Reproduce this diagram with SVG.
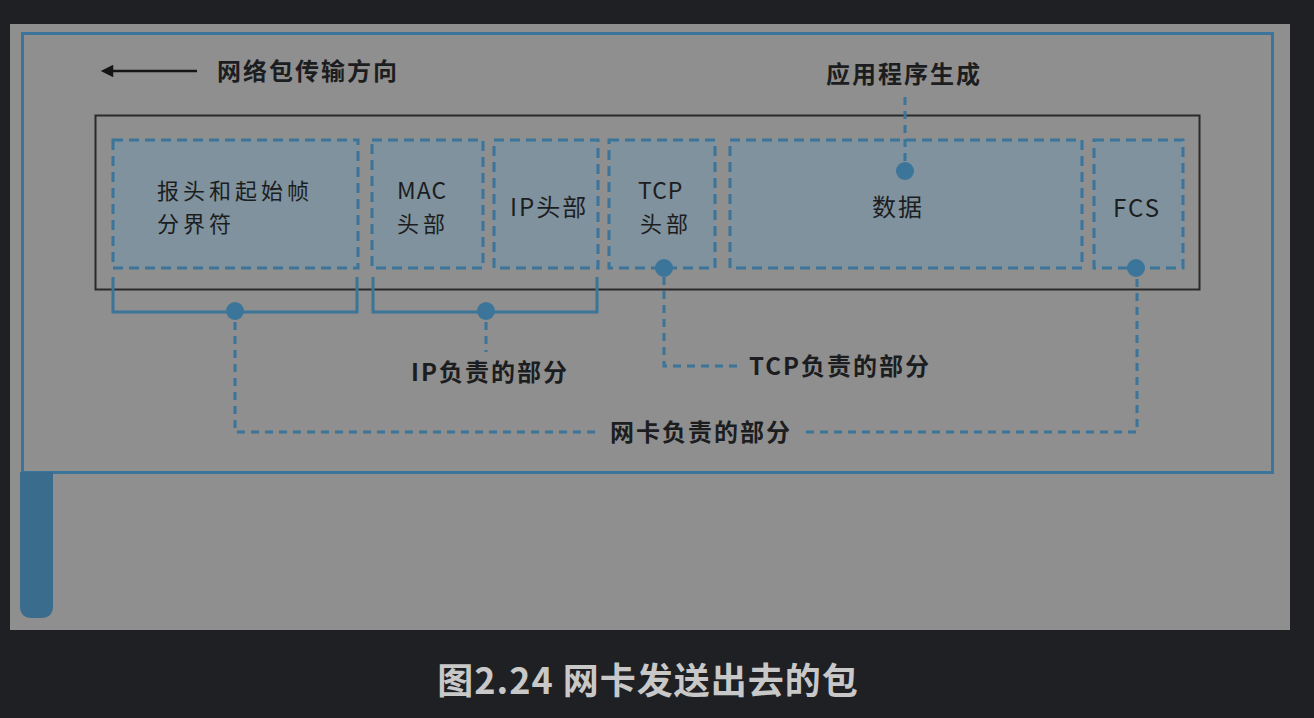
<svg xmlns="http://www.w3.org/2000/svg" width="1314" height="718" viewBox="0 0 1314 718">
<defs>
<style>
.t{font-family:"Noto Sans CJK SC","Noto Sans",sans-serif;font-size:24px;fill:#1c1d1f;letter-spacing:2px}
.s{font-size:22px;letter-spacing:4px}
.tb{font-weight:bold}
.box{fill:#7f929d;stroke:#3b7599;stroke-width:3;stroke-dasharray:10 6}
.br{fill:none;stroke:#3b7599;stroke-width:3}
.dl{fill:none;stroke:#3b7599;stroke-width:3;stroke-dasharray:8 6}
.dot{fill:#3b7599}
</style>
<marker id="ah" viewBox="0 0 10 10" refX="1" refY="5" markerWidth="6" markerHeight="5" orient="auto-start-reverse" markerUnits="strokeWidth">
<path d="M0,0 L10,5 L0,10 z" fill="#151515"/>
</marker>
</defs>
<rect x="0" y="0" width="1314" height="718" fill="#1f2023"/>
<rect x="10" y="24" width="1280" height="606" fill="#8f8f8f"/>
<rect x="22.5" y="33.5" width="1250" height="439" fill="none" stroke="#3b7599" stroke-width="3"/>
<path d="M20,472 H53 V606 Q53,618 41,618 H32 Q20,618 20,606 Z" fill="#3a6c8e"/>
<g id="direction">
<line x1="197" y1="71" x2="112" y2="71" stroke="#151515" stroke-width="2.5" marker-end="url(#ah)"/>
<text class="t tb" x="217" y="80">网络包传输方向</text>
</g>
<g id="appgen"><text class="t tb" x="826" y="83">应用程序生成</text></g>
<g id="frame"><rect x="95.5" y="115.5" width="1104" height="174" fill="none" stroke="#2a2a2a" stroke-width="2"/></g>
<g id="preamble"><rect class="box" x="113" y="140" width="245" height="128"/><text class="t s" x="157" y="199">报头和起始帧</text><text class="t s" x="157" y="232">分界符</text></g>
<g id="mac"><rect class="box" x="372" y="140" width="111" height="128"/><text class="t s" x="397" y="199" style="letter-spacing:1px;font-size:23px">MAC</text><text class="t s" x="397" y="232">头部</text></g>
<g id="ip"><rect class="box" x="494" y="140" width="104" height="128"/><text class="t" x="510" y="216">IP头部</text></g>
<g id="tcp"><rect class="box" x="609" y="140" width="106" height="128"/><text class="t s" x="638" y="199" style="letter-spacing:1px;font-size:23px">TCP</text><text class="t s" x="640" y="232">头部</text></g>
<g id="data"><rect class="box" x="730" y="140" width="352" height="128"/><text class="t" x="872" y="216">数据</text></g>
<g id="fcs"><rect class="box" x="1094" y="140" width="89" height="128"/><text class="t" x="1113" y="217">FCS</text></g>
<g id="connectors">
<line class="dl" x1="905" y1="97" x2="905" y2="162"/>
<circle class="dot" cx="905" cy="171" r="9"/>
<path class="br" d="M113,277 V312 H357 V277"/>
<path class="br" d="M373,277 V312 H597 V277"/>
<circle class="dot" cx="235" cy="311" r="9"/>
<circle class="dot" cx="486" cy="311" r="9"/>
<line class="dl" x1="486" y1="322" x2="486" y2="352"/>
<circle class="dot" cx="664" cy="268" r="9"/>
<path class="dl" d="M664,277 V366 H738"/>
<circle class="dot" cx="1136" cy="268" r="9"/>
<path class="dl" d="M235,322 V432 H596"/>
<path class="dl" d="M806,432 H1137 V277"/>
</g>
<g id="labels">
<text class="t tb" x="411" y="381">IP负责的部分</text>
<text class="t tb" x="749" y="375">TCP负责的部分</text>
<text class="t tb" x="610" y="441">网卡负责的部分</text>
</g>
<g id="caption"><text x="648" y="694" text-anchor="middle" font-family="Noto Sans CJK SC, Noto Sans, sans-serif" font-size="36" font-weight="bold" letter-spacing="1" fill="#c8c8c8">图2.24 网卡发送出去的包</text></g>
</svg>
